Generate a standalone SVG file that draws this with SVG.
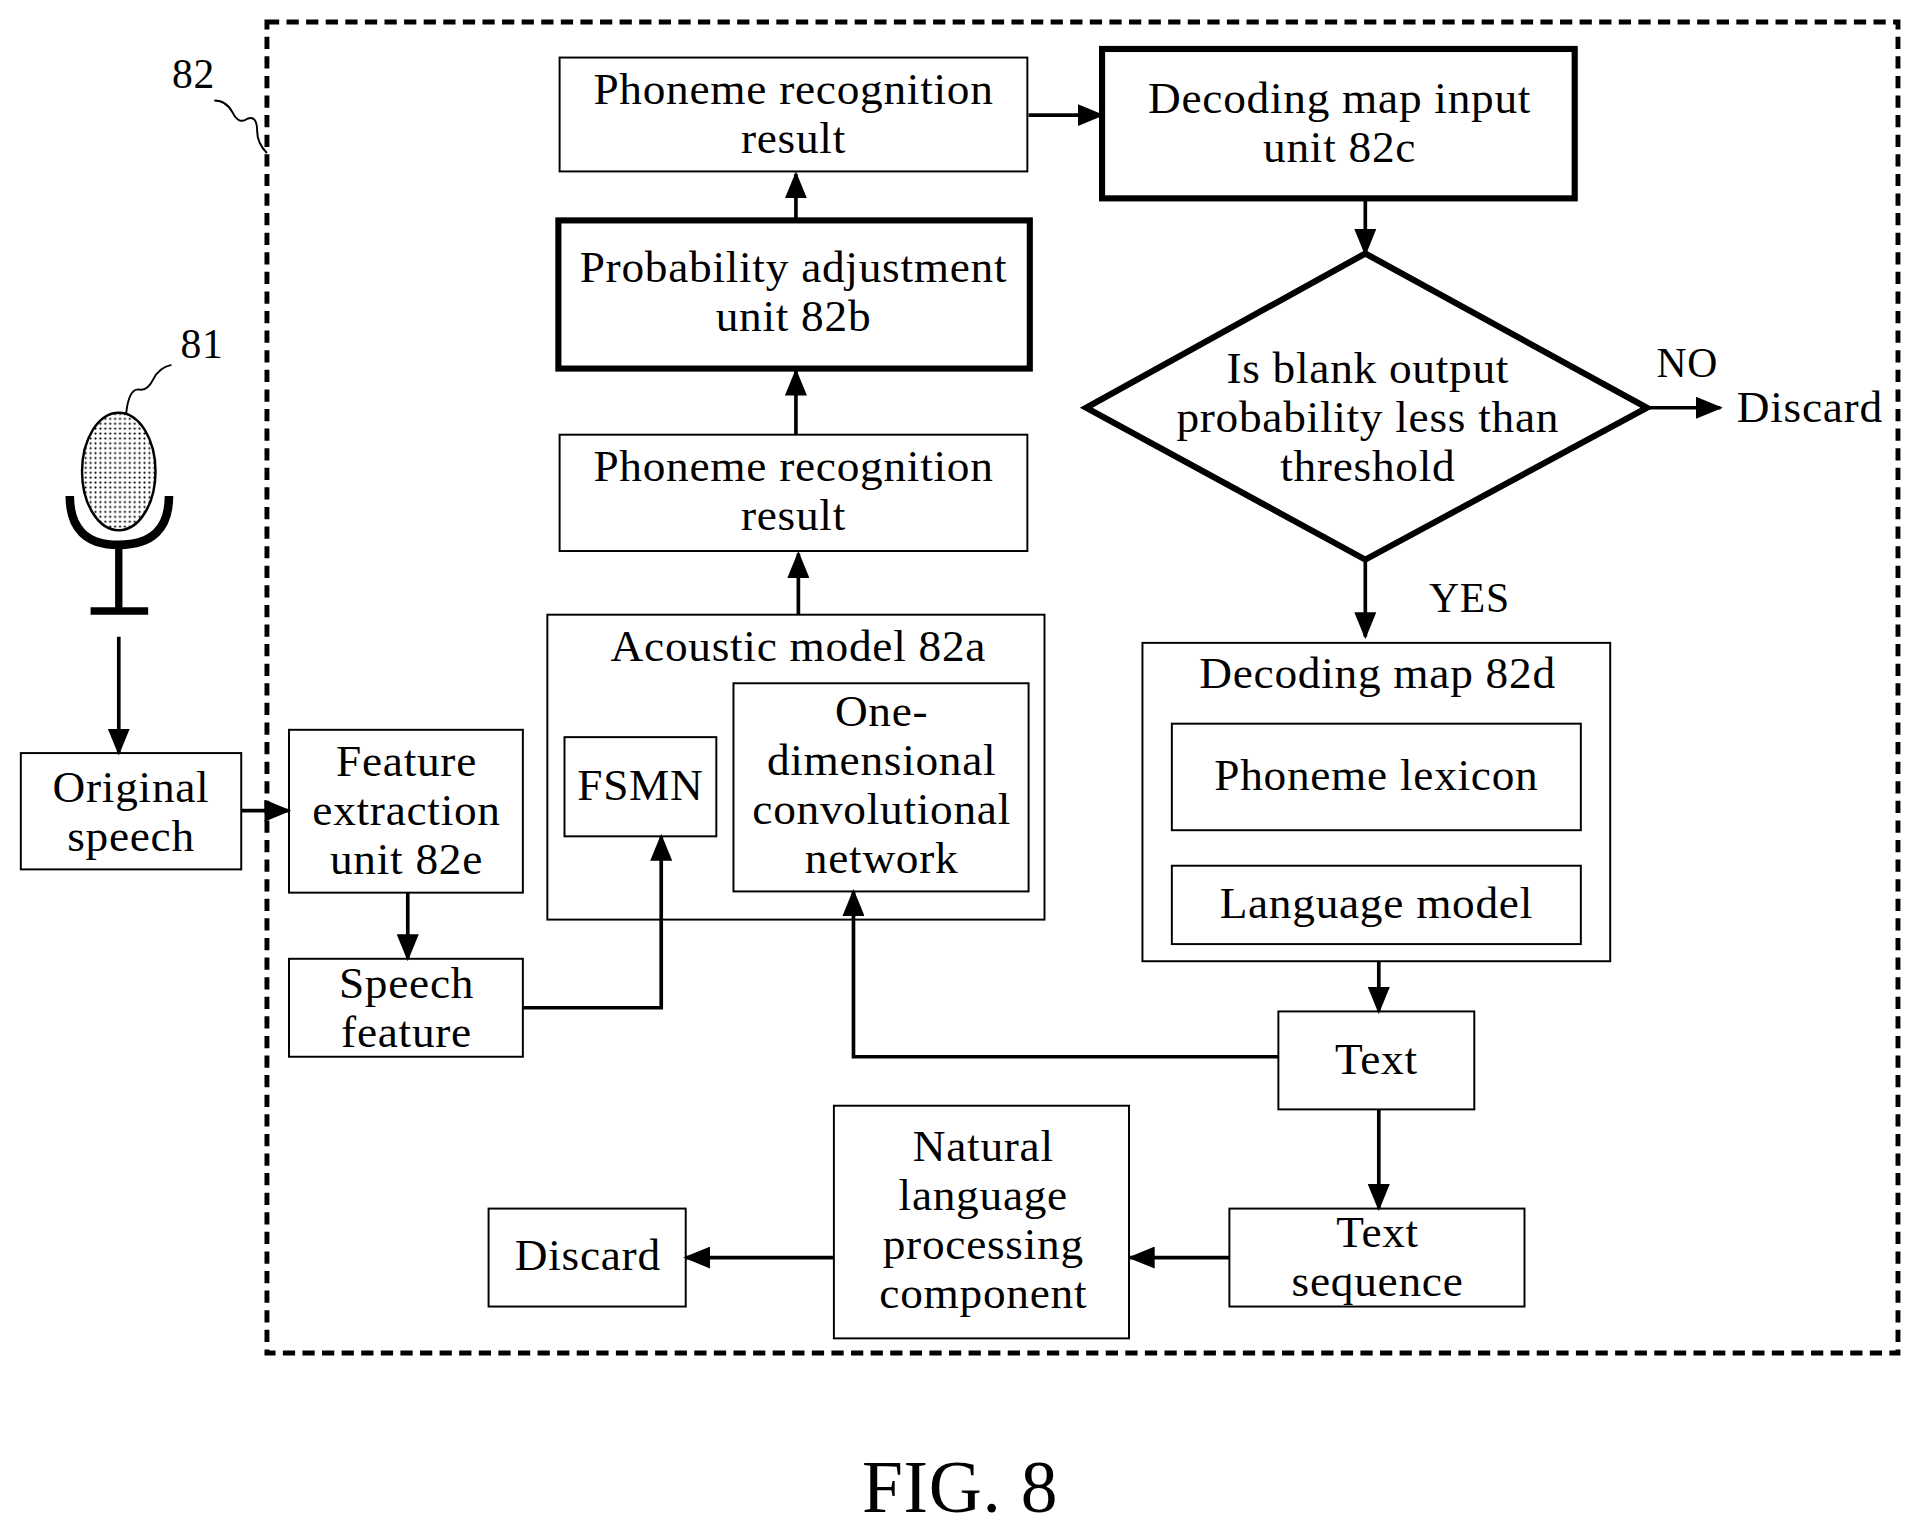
<svg xmlns="http://www.w3.org/2000/svg" width="1920" height="1532" viewBox="0 0 1920 1532">
<defs>
<marker id="a" markerWidth="22" markerHeight="18" refX="20" refY="9" orient="auto" markerUnits="userSpaceOnUse"><path d="M0,0 L22,9 L0,18 z" fill="#000"/></marker>
<pattern id="dots" width="4" height="4" patternUnits="userSpaceOnUse"><rect width="4" height="4" fill="#fff"/><circle cx="2" cy="2" r="0.9" fill="#000"/></pattern>
</defs>
<style>
text{font-family:"Liberation Serif","Times New Roman",serif;font-size:37px;letter-spacing:0.6px;text-anchor:middle;fill:#000}
.b{fill:#fff;stroke:#000;stroke-width:1.6}
.k{fill:#fff;stroke:#000;stroke-width:5}
.c{fill:none;stroke:#000;stroke-width:3;marker-end:url(#a)}
</style>
<rect width="1920" height="1532" fill="#fff"/>
<g transform="scale(1.2245)">
<rect x="218" y="18" width="1332" height="1087" fill="none" stroke="#000" stroke-width="4" stroke-dasharray="10,6"/>
<g id="lbl82"><text x="158" y="72" style="font-size:34px">82</text><path d="M175,82 q10,0 15,10 q5,10 12,5 q8,-3 8,10 q0,10 8,18" fill="none" stroke="#000" stroke-width="1.6"/></g>
<g id="mic"><text x="165" y="292" style="font-size:34px">81</text><path d="M140,298 q-10,2 -15,12 q-5,10 -12,8 q-8,0 -10,20" fill="none" stroke="#000" stroke-width="1.6"/>
<ellipse cx="97" cy="385" rx="30" ry="48" fill="url(#dots)" stroke="#000" stroke-width="2"/>
<path d="M57,405 Q57,445 97,445 Q138,445 138,405" fill="none" stroke="#000" stroke-width="7"/>
<line x1="97" y1="445" x2="97" y2="500" stroke="#000" stroke-width="6"/>
<line x1="74" y1="499" x2="121" y2="499" stroke="#000" stroke-width="6"/></g>
<g id="orig"><rect class="b" x="17" y="615" width="180" height="95"/><text x="107" y="655">Original</text><text x="107" y="695">speech</text></g>
<g id="feat"><rect class="b" x="236" y="596" width="191" height="133"/><text x="332" y="634">Feature</text><text x="332" y="674">extraction</text><text x="332" y="714">unit 82e</text></g>
<g id="sfeat"><rect class="b" x="236" y="783" width="191" height="80"/><text x="332" y="815">Speech</text><text x="332" y="855">feature</text></g>
<g id="acoustic"><rect class="b" x="447" y="502" width="406" height="249"/><text x="652" y="540">Acoustic model 82a</text></g>
<g id="fsmn"><rect class="b" x="461" y="602" width="124" height="81"/><text x="523" y="653">FSMN</text></g>
<g id="conv"><rect class="b" x="599" y="558" width="241" height="170"/><text x="720" y="593">One-</text><text x="720" y="633">dimensional</text><text x="720" y="673">convolutional</text><text x="720" y="713">network</text></g>
<g id="pr1"><rect class="b" x="457" y="355" width="382" height="95"/><text x="648" y="393">Phoneme recognition</text><text x="648" y="433">result</text></g>
<g id="prob"><rect class="k" x="456" y="180" width="385" height="121"/><text x="648" y="230">Probability adjustment</text><text x="648" y="270">unit 82b</text></g>
<g id="pr2"><rect class="b" x="457" y="47" width="382" height="93"/><text x="648" y="85">Phoneme recognition</text><text x="648" y="125">result</text></g>
<g id="dmi"><rect class="k" x="900" y="40" width="386" height="122"/><text x="1094" y="92">Decoding map input</text><text x="1094" y="132">unit 82c</text></g>
<g id="dec"><path class="k" d="M1115,207 L1345,333 L1115,457 L887,333 Z"/><text x="1117" y="313">Is blank output</text><text x="1117" y="353">probability less than</text><text x="1117" y="393">threshold</text></g>
<g id="lbls"><text x="1378" y="308" style="font-size:34px">NO</text><text x="1478" y="345">Discard</text><text x="1200" y="500" style="font-size:34px">YES</text></g>
<g id="dmap"><rect class="b" x="933" y="525" width="382" height="260"/><text x="1125" y="562">Decoding map 82d</text></g>
<g id="lex"><rect class="b" x="957" y="591" width="334" height="87"/><text x="1124" y="645">Phoneme lexicon</text></g>
<g id="lm"><rect class="b" x="957" y="707" width="334" height="64"/><text x="1124" y="750">Language model</text></g>
<g id="text"><rect class="b" x="1044" y="826" width="160" height="80"/><text x="1124" y="877">Text</text></g>
<g id="tseq"><rect class="b" x="1004" y="987" width="241" height="80"/><text x="1125" y="1018">Text</text><text x="1125" y="1058">sequence</text></g>
<g id="nlp"><rect class="b" x="681" y="903" width="241" height="190"/><text x="803" y="948">Natural</text><text x="803" y="988">language</text><text x="803" y="1028">processing</text><text x="803" y="1068">component</text></g>
<g id="disc"><rect class="b" x="399" y="987" width="161" height="80"/><text x="480" y="1037">Discard</text></g>
<g id="connectors">
<path class="c" d="M97,520 V615"/>
<path class="c" d="M197,662 H236"/>
<path class="c" d="M333,729 V783"/>
<path class="c" d="M427,823 H540 V683"/>
<path class="c" d="M652,502 V452"/>
<path class="c" d="M650,355 V303"/>
<path class="c" d="M650,180 V142"/>
<path class="c" d="M840,94 H900"/>
<path class="c" d="M1115,162 V207"/>
<path class="c" d="M1345,333 H1405"/>
<path class="c" d="M1115,457 V520"/>
<path class="c" d="M1126,785 V826"/>
<path class="c" d="M1044,863 H697 V728"/>
<path class="c" d="M1126,906 V987"/>
<path class="c" d="M1004,1027 H923"/>
<path class="c" d="M681,1027 H560"/>
</g>
<text x="784" y="1235" style="font-size:60px">FIG. 8</text>
</g>
</svg>
